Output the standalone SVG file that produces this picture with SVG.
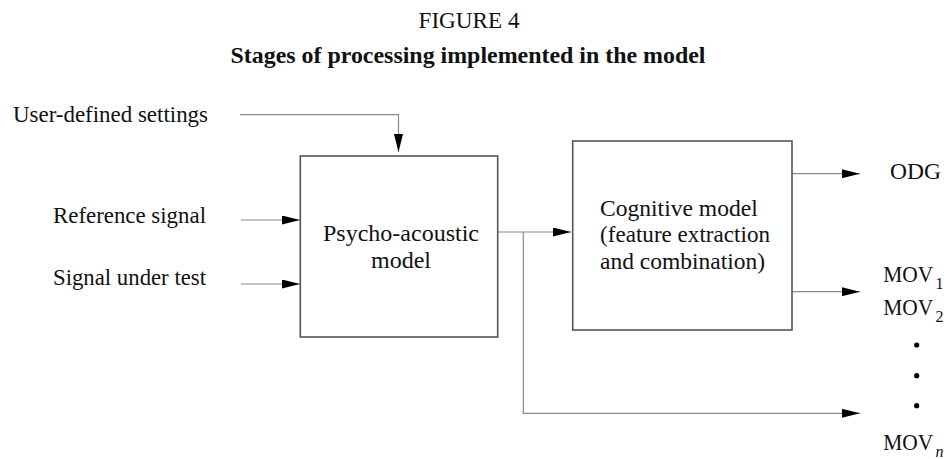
<svg xmlns="http://www.w3.org/2000/svg" width="947" height="459" viewBox="0 0 947 459">
<defs>
<style>
text{font-family:"Liberation Serif","Times New Roman",serif;fill:#111}
.t{font-size:24px}
.b{font-size:23.5px}
.box{fill:#fff;stroke:#555;stroke-width:1.6}
.c{fill:none;stroke:#8a8a8a;stroke-width:1.2}
.sub{font-size:16px}
</style>
<marker id="ah" markerUnits="userSpaceOnUse" markerWidth="18" markerHeight="9" refX="18" refY="4.5" orient="auto">
<path d="M0,0 L18,4.5 L0,9 z" fill="#000"/>
</marker>
</defs>
<rect width="947" height="459" fill="#fff"/>
<g id="title">
<text x="469" y="27.7" text-anchor="middle" style="font-size:23px" textLength="101" lengthAdjust="spacingAndGlyphs">FIGURE 4</text>
<text x="468" y="63.3" text-anchor="middle" style="font-size:24px;font-weight:bold" textLength="475" lengthAdjust="spacingAndGlyphs">Stages of processing implemented in the model</text>
</g>
<g id="connectors">
<path class="c" d="M240,114.7 H398.5 V152" marker-end="url(#ah)"/>
<path class="c" d="M241,220 H300" marker-end="url(#ah)"/>
<path class="c" d="M241,284 H300" marker-end="url(#ah)"/>
<path class="c" d="M498,232 H571" marker-end="url(#ah)"/>
<path class="c" d="M523.3,232 V413.3 H860" marker-end="url(#ah)"/>
<path class="c" d="M792,173.7 H860" marker-end="url(#ah)"/>
<path class="c" d="M792,291.7 H860" marker-end="url(#ah)"/>
</g>
<g id="user-settings">
<text class="t" x="13" y="121.7" textLength="195" lengthAdjust="spacingAndGlyphs">User-defined settings</text>
</g>
<g id="reference-signal">
<text class="t" x="53" y="223.3" textLength="153" lengthAdjust="spacingAndGlyphs">Reference signal</text>
</g>
<g id="signal-under-test">
<text class="t" x="53" y="285" textLength="153" lengthAdjust="spacingAndGlyphs">Signal under test</text>
</g>
<g id="psycho-acoustic">
<rect class="box" x="300.3" y="156" width="197.4" height="181"/>
<text class="t" x="401" y="241" text-anchor="middle">Psycho-acoustic</text>
<text class="t" x="401" y="267.7" text-anchor="middle">model</text>
</g>
<g id="cognitive">
<rect class="box" x="572.7" y="141" width="219.3" height="189"/>
<text class="b" x="600" y="216" textLength="157.7" lengthAdjust="spacingAndGlyphs">Cognitive model</text>
<text class="b" x="600" y="241.7" textLength="170" lengthAdjust="spacingAndGlyphs">(feature extraction</text>
<text class="b" x="600" y="269" textLength="165" lengthAdjust="spacingAndGlyphs">and combination)</text>
</g>
<g id="odg">
<text class="b" x="890" y="179.3" textLength="51" lengthAdjust="spacingAndGlyphs">ODG</text>
</g>
<g id="movs">
<text class="b" x="883.3" y="281.7"><tspan textLength="50" lengthAdjust="spacingAndGlyphs">MOV</tspan><tspan class="sub" x="935.5" y="288.5">1</tspan></text>
<text class="b" x="883.3" y="315"><tspan textLength="50" lengthAdjust="spacingAndGlyphs">MOV</tspan><tspan class="sub" x="935.5" y="321.8">2</tspan></text>
<circle cx="916.7" cy="345" r="2.6" fill="#000"/>
<circle cx="916.7" cy="375.7" r="2.6" fill="#000"/>
<circle cx="916.7" cy="405.7" r="2.6" fill="#000"/>
<text class="b" x="883.3" y="450"><tspan textLength="50" lengthAdjust="spacingAndGlyphs">MOV</tspan><tspan class="sub" x="935.5" y="456.5" font-style="italic">n</tspan></text>
</g>
</svg>
